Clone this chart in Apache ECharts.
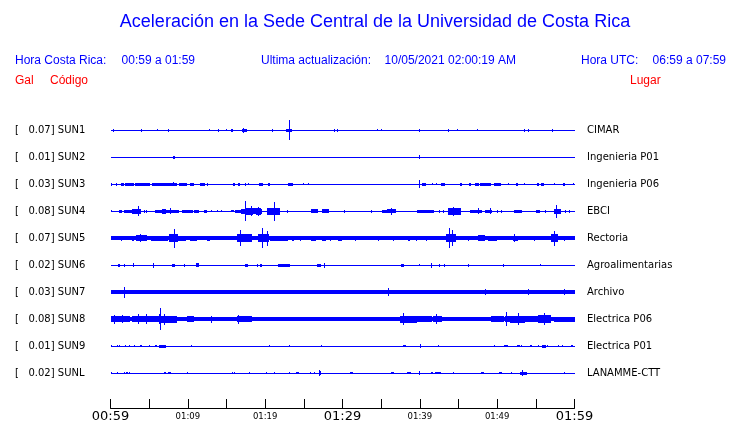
<!DOCTYPE html>
<html><head><meta charset="utf-8">
<script src="https://cdn.jsdelivr.net/npm/echarts@6/dist/echarts.min.js"></script>
<style>html,body{margin:0;padding:0;background:#fff}#c{width:740px;height:423px}</style>
</head><body><div id="c"></div>
<script>
const TITLE = 'Aceleración en la Sede Central de la Universidad de Costa Rica';
const HORA_CR = ['Hora Costa Rica:', '00:59 a 01:59'];
const ULTIMA = ['Ultima actualización:', '10/05/2021 02:00:19 AM'];
const HORA_UTC = ['Hora UTC:', '06:59 a 07:59'];
const COL_HEADS = ['Gal', 'Código', 'Lugar'];

const CODES = ['SUN1','SUN2','SUN3','SUN4','SUN5','SUN6','SUN7','SUN8','SUN9','SUNL'];
const PEAK_GAL = [0.07,0.01,0.03,0.08,0.07,0.02,0.03,0.08,0.01,0.02];
const PLACES = ['CIMAR','Ingenieria P01','Ingenieria P06','EBCI','Rectoria','Agroalimentarias','Archivo','Electrica P06','Electrica P01','LANAMME-CTT'];
// minutes after 00:59 ; tick labels every 5 minutes
const TICK_LABELS = ['00:59','','01:09','','01:19','','01:29','','01:39','','01:49','','01:59'];
const BIG_TICKS = ['00:59','01:29','01:59'];

// events: [start minute, duration minutes, half amplitude]
const SUN1 = [[0.4,0,1.3],[4.0,0,1.3],[6.1,0,1.0],[7.5,0,1.3],[12.8,0,1.0],[14.0,0,1.3],[15.0,0,1.0],[15.6,0,1.3],[15.8,0,1.3],[17.0,0.65,1.5],[17.15,0.1,2.7],[20.9,0,1.3],[22.7,0.8,1.7],[23.14,0,10],[28.95,0,1.7],[29.33,0,1.7],[34.5,0,1.0],[35.0,0,1.0],[40.0,0,1.3],[43.65,0,1.3],[44.9,0,1.0],[47.5,0,1.0],[53.5,0,1.3],[54.0,0,1.3],[57.2,0,1.3]];
const SUN2 = [[8.1,0.3,1.3],[40.0,0,2]];
const SUN3 = [[0.1,0,1.3],[0.65,0.15,1.3],[1.3,0.45,1.3],[1.85,1.2,1.3],[3.2,1.95,1.3],[5.4,3.2,1.3],[8.2,0,2],[8.9,1.0,1.3],[10.3,0.55,1.3],[11.6,0.65,1.3],[12.5,0,1.3],[13.5,0,0.8],[15.9,0.25,1.3],[16.45,0.3,1.3],[17.4,0,1.3],[17.9,0,1],[19.2,0.55,1.3],[20.4,0.2,1.3],[22.9,0.7,1.3],[24.9,0,1],[25.6,0,1],[36.4,0,0.8],[37.2,0,0.8],[38.1,0,0.8],[39.4,0,0.8],[40.0,0,4],[40.3,0.55,1.3],[41.6,0,1],[42.1,0,1],[42.8,0.5,1.3],[45.2,0.3,1.3],[46.3,0.25,1.3],[47.1,0.5,1.3],[47.8,1.45,1.3],[49.6,0.9,1.3],[51.5,0,1],[52.4,0.3,1.3],[53.5,0,1],[55.1,0.3,1.3],[55.7,0.4,1.3],[57.4,0,1],[58.5,0.3,1.3],[59.9,0,1]];
const SUN4 = [[0.1,0,1],[1.1,0.4,1.3],[1.7,1.1,1.5],[2.8,1.1,2.6],[3.66,0,5],[4.4,0,1.5],[4.7,0,1.5],[5.7,2.0,1.5],[6.6,0.5,2.3],[7.75,0,3],[7.75,1.2,1.3],[9.25,1.4,1.8],[10.75,0.6,1.3],[12.1,0.35,1.5],[13.1,0,1],[13.8,0,1],[14.3,0,1],[15.6,0.4,1],[16.05,1.0,1.8],[16.9,0.6,2.7],[17.5,0.9,3.8],[17.4,0,10],[18.2,0,5],[18.4,0.4,3],[18.8,0.7,3.8],[19.2,0,4.5],[19.5,0.1,2.5],[20.2,1.7,3.3],[21.2,0,9.5],[22.9,0,1.3],[25.9,0.95,2],[27.3,0.95,2],[30.2,0,1.5],[33.7,0,1.3],[35.05,0.65,1.5],[35.8,1.15,2],[36.3,0,3.5],[39.6,1.0,1.5],[40.6,1.3,1.3],[42.6,0,1.3],[43.0,0,1.3],[43.65,1.7,3.6],[44.4,0,4.7],[46.45,1.5,1.5],[47.6,0,3],[48.4,0.85,1.5],[49.2,0,3],[50.0,0,1.3],[50.6,0,1.3],[52.2,1.0,1.8],[55.05,0.55,1.8],[56.3,0,1.3],[57.4,0.85,2.6],[57.7,0,6.5],[58.8,0,1.3],[59.35,0,1.3]];
const SUN5 = [[1.4,0,2.5],[2.8,0.3,2.5],[3.3,1.4,3.2],[3.9,0,4],[5.2,0.85,2.7],[6.2,1.3,2.3],[7.5,1.1,4.2],[8.26,0,9.5],[8.6,1.1,2.5],[10.3,0.85,2.7],[12.5,0.4,2.3],[16.35,1.95,4.2],[16.8,0,8],[19.1,1.45,3.8],[19.6,0,10],[20.3,0,7.5],[20.6,2.35,2.3],[23.5,0.3,2.3],[24.6,0,2.3],[25.9,0.6,2.3],[27.3,0.5,2.3],[28.5,0,2.3],[29.4,0.5,2.3],[31.7,0,2.3],[34.6,0,2.3],[36.6,0,2.3],[38.5,0.3,2.3],[39.6,0,2.3],[40.8,0,2.3],[43.4,1.3,4.2],[43.9,0,10],[44.2,0,8],[46.3,0,2.5],[47.5,0.85,3],[48.8,1.1,2.7],[52.05,0.65,2.7],[52.3,0,4],[54.8,0,2.5],[56.9,0.85,3.8],[57.4,0,7.7],[58.7,0,2.5]];
const SUN6 = [[1.0,0.3,1.3],[1.8,0.1,1.3],[3.0,0,2],[5.5,0.1,2.3],[7.9,0.35,1.5],[9.6,0,1.3],[11.0,0.4,2],[17.4,0.35,1.3],[18.9,0.1,1.3],[19.3,0.2,1.3],[21.7,1.5,1.5],[26.75,0.55,1.7],[27.65,0,2.3],[37.6,0.35,1.3],[40.0,0,1],[41.5,0,2.3],[42.5,0,1.3],[43.2,0,1.3],[46.2,0.1,1.3],[50.75,0.1,1.3],[55.6,0,0.8]];
const SUN7 = [[1.8,0.15,3],[1.85,0,5.5],[4.73,0,2.3],[20.4,0,2.3],[35.9,0.15,3],[35.95,0,4],[48.4,0.1,3],[54.0,0,3],[58.6,0.1,3]];
const SUN8 = [[0,2.4,3],[0.5,0,4.5],[1.5,0,4],[2.4,0.4,2],[2.8,3.0,3.3],[3.6,0,5],[4.7,0,5],[5.8,0.6,2.7],[6.3,0.3,5],[6.45,0,11],[6.5,2.1,3.6],[7.0,0,5.5],[8.6,0.6,2],[9.9,0.85,2.7],[10.75,2.8,2.2],[13.1,0,3.5],[16.35,1.9,3],[16.6,0,4.5],[19.3,0,2.3],[20.4,0,2.3],[20.8,0,2.3],[22.4,0.6,2.3],[24.0,0,2.3],[26.4,1.3,2.2],[31.4,0.4,2.3],[32.5,0,2.3],[33.2,1.0,2.2],[35.1,0,2.3],[35.9,0,2.3],[37.4,2.15,3.6],[37.9,0,6],[39.6,1.9,2.7],[41.7,1.1,3.3],[42.1,0,5],[45.4,1.7,2.2],[47.8,0,2.3],[48.4,0,2.3],[49.25,1.7,2.7],[51.0,0.6,3.3],[51.2,0,7],[51.6,1.95,3.6],[52.7,0,6],[53.55,1.7,2.7],[55.3,1.7,4],[56.1,0,6],[57.3,2.7,2.4]];
const SUN9 = [[0.13,0,1.3],[0.95,0,1.3],[1.2,0,0.8],[1.9,0,0.8],[2.5,0,0.8],[3.1,0,0.8],[3.8,0.2,1.3],[5.1,0,0.8],[5.7,0.25,1.3],[6.25,0.95,1.5],[10.5,0,1.3],[20.6,0,0.8],[23.1,0,0.8],[27.3,0,0.8],[37.85,0.35,1.3],[40.05,0.1,2],[42.4,0,1.3],[49.7,0,1.3],[50.85,0.35,1.3],[51.4,0,1.3],[52.5,0.4,1.3],[53.1,0,1.3],[54.2,0.2,1.3],[55.3,0,1],[55.8,0.55,1.5],[56.45,0,1.3],[57.95,0,1],[58.4,0,1],[59.5,0.2,1]];
const SUNL = [[0.1,0,1],[0.85,0,0.8],[1.75,0,0.8],[1.95,0.3,1.3],[2.5,0,0.8],[6.9,0.2,1.3],[7.4,0.4,1.3],[10.0,0,1.3],[15.8,0,1],[16.0,0,1],[18.0,0,0.8],[20.2,0,0.8],[21.2,0,1.3],[23.1,0,1],[23.95,0.35,1.3],[25.85,0,1],[26.4,0,0.8],[26.9,0.3,2],[27.0,0,3.3],[31.0,0.35,1.3],[36.25,0.35,1.3],[38.4,0.5,1.3],[40.0,0,2.3],[41.5,0.25,1.3],[41.9,0.8,1.3],[44.4,0,0.8],[47.9,0.4,1.3],[50.3,0.35,1.3],[51.8,0,0.8],[52.9,0.85,1.5],[53.3,0,3.3],[58.7,0,1]];
const TRACES = [SUN1,SUN2,SUN3,SUN4,SUN5,SUN6,SUN7,SUN8,SUN9,SUNL];

// styling
const BLUE = '#0000ff', RED = '#ff0000';
const BASE_HALF = [0.5,0.5,0.5,0.5,2,0.5,2,2,0.5,0.5];
const ROW_PX = 27;  // amplitude unit conversion (row spacing in pixels)

const chart = echarts.init(document.getElementById('c'), null, {renderer:'canvas'});

function makeRender(row, fixedHalf) {
  return function (params, api) {
    const t = api.value(0), d = api.value(1);
    const a = fixedHalf != null ? fixedHalf : api.value(2);
    const p0 = api.coord([t, row]);
    const p1 = api.coord([t + d, row]);
    const pa = api.coord([t, row + a / ROW_PX]);
    const half = Math.abs(pa[1] - p0[1]);
    const top = Math.round(p0[1] - half);
    const bot = Math.round(p0[1] + half);
    const x0 = Math.round(p0[0] - (d === 0 ? 0.5 : 0));
    const w = Math.max(1, Math.round(p1[0] - p0[0]));
    return {type:'rect', shape:{x:x0, y:top, width:w, height:Math.max(1, bot - top)}, style:{fill:BLUE}};
  };
}

const series = [];
TRACES.forEach((ev, i) => {
  series.push({type:'custom', silent:true, renderItem: makeRender(i, BASE_HALF[i]),
    data:[[0, 60]], encode:{x:[0,1], y:[]}, clip:false});
  series.push({type:'custom', silent:true, renderItem: makeRender(i, null),
    data: ev, encode:{x:[0,1], y:[]}, clip:false});
});

const Y_MIN = -1, Y_MAX = 10.296;
function leftLabel(v) {
  const i = Math.round(v);
  if (Math.abs(v - i) > 1e-6 || i < 0 || i >= CODES.length) return '';
  return '[   ' + PEAK_GAL[i].toFixed(2) + '] ' + CODES[i];
}
function rightLabel(v) {
  const i = Math.round(v);
  if (Math.abs(v - i) > 1e-6 || i < 0 || i >= PLACES.length) return '';
  return PLACES[i];
}

const hdr = {fontFamily:'Liberation Sans', fontSize:12, fill:BLUE};
const option = {
  animation:false,
  backgroundColor:'#ffffff',
  grid:{left:110.5, right:165.5, top:103.5, bottom:14.5},
  xAxis:{type:'value', min:0, max:60, interval:5,
    axisLine:{show:true, onZero:false, lineStyle:{color:'#000', width:1}},
    axisTick:{show:true, inside:true, length:9, lineStyle:{color:'#000'}},
    splitLine:{show:false},
    axisLabel:{show:true, margin:2, showMinLabel:true, showMaxLabel:true,
      formatter:function(v){ const s = TICK_LABELS[Math.round(v/5)] || ''; if(!s) return ''; return BIG_TICKS.includes(s) ? '{b|'+s+'}' : '{s|'+s+'}'; },
      rich:{b:{fontFamily:'DejaVu Sans', fontSize:13, color:'#000'}, s:{fontFamily:'DejaVu Sans', fontSize:8.5, color:'#000', padding:[2,0,0,0]}}}
  },
  yAxis:[
    {type:'value', min:Y_MIN, max:Y_MAX, interval:1, inverse:true, position:'left',
     axisLine:{show:false}, axisTick:{show:false}, splitLine:{show:false},
     axisLabel:{show:true, align:'left', margin:95.5, formatter:leftLabel, fontFamily:'DejaVu Sans', fontSize:10, color:'#000', showMaxLabel:false}},
    {type:'value', min:Y_MIN, max:Y_MAX, interval:1, inverse:true, position:'right',
     axisLine:{show:false}, axisTick:{show:false}, splitLine:{show:false},
     axisLabel:{show:true, align:'left', margin:12.5, formatter:rightLabel, fontFamily:'DejaVu Sans', fontSize:10, color:'#000', showMaxLabel:false}}
  ],
  graphic:[
    {type:'text', x:375, y:22, style:{text:TITLE, fontFamily:'Liberation Sans', fontSize:18, fill:BLUE, textAlign:'center', textVerticalAlign:'middle'}},
    {type:'text', x:15, y:61, style:Object.assign({text:HORA_CR[0], textVerticalAlign:'middle'}, hdr)},
    {type:'text', x:195, y:61, style:Object.assign({text:HORA_CR[1], textAlign:'right', textVerticalAlign:'middle'}, hdr)},
    {type:'text', x:261, y:61, style:Object.assign({text:ULTIMA[0], textVerticalAlign:'middle'}, hdr)},
    {type:'text', x:516, y:61, style:Object.assign({text:ULTIMA[1], textAlign:'right', textVerticalAlign:'middle'}, hdr)},
    {type:'text', x:581, y:61, style:Object.assign({text:HORA_UTC[0], textVerticalAlign:'middle'}, hdr)},
    {type:'text', x:726, y:61, style:Object.assign({text:HORA_UTC[1], textAlign:'right', textVerticalAlign:'middle'}, hdr)},
    {type:'text', x:15, y:81, style:{text:COL_HEADS[0], fontFamily:'Liberation Sans', fontSize:12, fill:RED, textVerticalAlign:'middle'}},
    {type:'text', x:50, y:81, style:{text:COL_HEADS[1], fontFamily:'Liberation Sans', fontSize:12, fill:RED, textVerticalAlign:'middle'}},
    {type:'text', x:630, y:81, style:{text:COL_HEADS[2], fontFamily:'Liberation Sans', fontSize:12, fill:RED, textVerticalAlign:'middle'}}
  ],
  series: series
};
chart.setOption(option);
</script></body></html>
